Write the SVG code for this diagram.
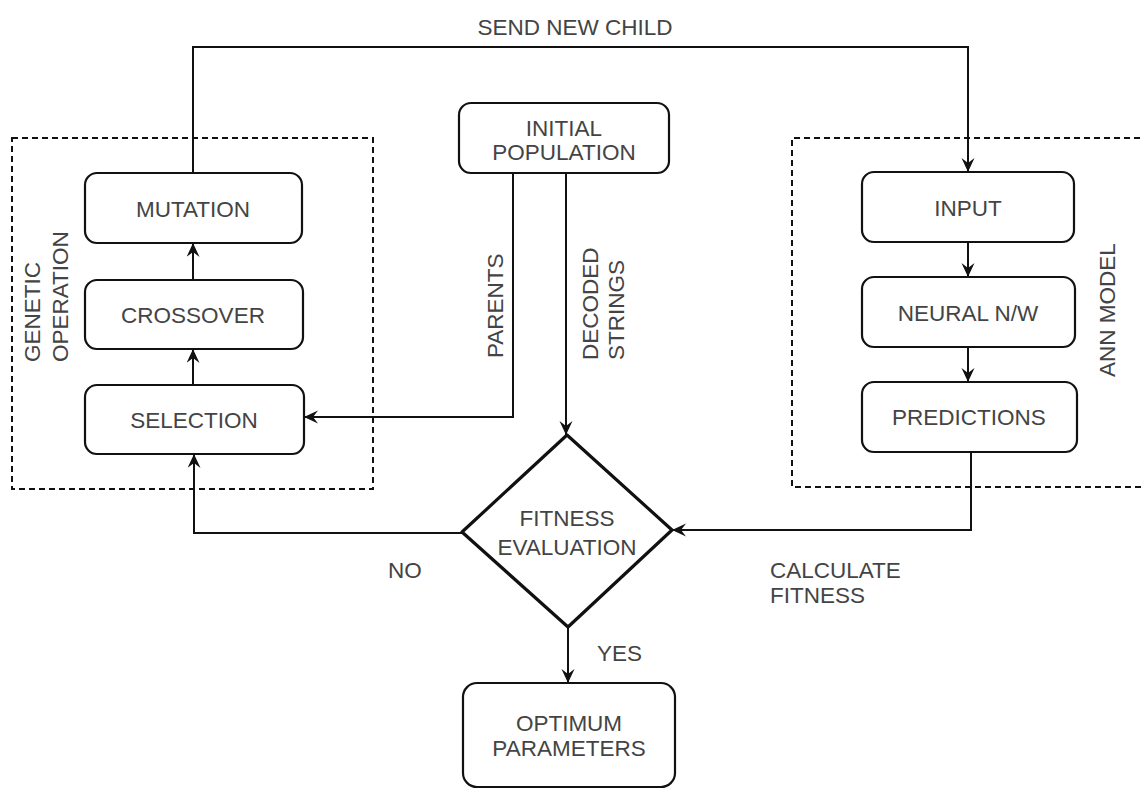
<svg xmlns="http://www.w3.org/2000/svg" width="1141" height="790" viewBox="0 0 1141 790">
<style>
.box{fill:#fff;stroke:#111;stroke-width:2.2}
.grp{fill:none;stroke:#111;stroke-width:2;stroke-dasharray:6 4}
.lbl{font-family:"Liberation Sans",Arial,sans-serif;font-size:22.5px;fill:#444;text-anchor:middle}
.side{font-family:"Liberation Sans",Arial,sans-serif;font-size:22.5px;fill:#444;text-anchor:start}
.edge{fill:none;stroke:#111;stroke-width:2}
</style>
<defs>
<marker id="arr" markerUnits="userSpaceOnUse" markerWidth="16" markerHeight="14" refX="14" refY="6.5" orient="auto">
<path d="M0,0 L14,6.5 L0,13 L5,6.5 z" fill="#111"/>
</marker>
</defs>
<rect width="1141" height="790" fill="#fff"/>
<g id="genetic-operation">
<rect class="grp" x="12" y="138" width="361" height="351"/>
<text class="side" transform="translate(42,362) rotate(-90)" dy="-2">GENETIC</text>
<text class="side" transform="translate(70,362) rotate(-90)" dy="-2">OPERATION</text>
</g>
<g id="ann-model">
<path class="grp" d="M1150,138 H792 V487 H1150"/>
<text class="lbl" transform="translate(1117,310) rotate(-90)" dy="-2">ANN MODEL</text>
</g>
<g id="mutation">
<rect class="box" x="85" y="173" width="217" height="70" rx="12"/>
<text class="lbl" x="193" y="217">MUTATION</text>
</g>
<g id="crossover">
<rect class="box" x="85" y="280" width="218" height="69" rx="12"/>
<text class="lbl" x="193" y="323">CROSSOVER</text>
</g>
<g id="selection">
<rect class="box" x="85" y="385" width="219" height="69" rx="12"/>
<text class="lbl" x="194" y="428">SELECTION</text>
</g>
<g id="initial-population">
<rect class="box" x="459" y="103" width="210" height="70" rx="12"/>
<text class="lbl" x="564" y="136">INITIAL</text>
<text class="lbl" x="564" y="160">POPULATION</text>
</g>
<g id="input">
<rect class="box" x="862" y="172" width="212" height="70" rx="12"/>
<text class="lbl" x="968" y="216">INPUT</text>
</g>
<g id="neural-nw">
<rect class="box" x="862" y="277" width="213" height="70" rx="12"/>
<text class="lbl" x="968" y="321">NEURAL N/W</text>
</g>
<g id="predictions">
<rect class="box" x="862" y="382" width="215" height="70" rx="12"/>
<text class="lbl" x="969" y="425">PREDICTIONS</text>
</g>
<g id="fitness-evaluation">
<path d="M567,435 L672,530 L568,627 L462,532 Z" fill="#fff" stroke="#111" stroke-width="3.2" stroke-linejoin="round"/>
<text class="lbl" x="567" y="526">FITNESS</text>
<text class="lbl" x="567" y="555">EVALUATION</text>
</g>
<g id="optimum-parameters">
<rect class="box" x="463" y="683" width="212" height="104" rx="14"/>
<text class="lbl" x="569" y="731">OPTIMUM</text>
<text class="lbl" x="569" y="756">PARAMETERS</text>
</g>
<g id="connectors">
<path class="edge" d="M193,173 V47 H968 V172" marker-end="url(#arr)"/>
<path class="edge" d="M968,242 V277" marker-end="url(#arr)"/>
<path class="edge" d="M968,347 V382" marker-end="url(#arr)"/>
<path class="edge" d="M971,452 V530 H672" marker-end="url(#arr)"/>
<path class="edge" d="M566,173 V435" marker-end="url(#arr)"/>
<path class="edge" d="M513,173 V417 H304" marker-end="url(#arr)"/>
<path class="edge" d="M462,533 H194 V454" marker-end="url(#arr)"/>
<path class="edge" d="M568,627 V683" marker-end="url(#arr)"/>
<path class="edge" d="M193,385 V349" marker-end="url(#arr)"/>
<path class="edge" d="M193,280 V243" marker-end="url(#arr)"/>
<text class="lbl" x="575" y="35">SEND NEW CHILD</text>
<text class="side" transform="translate(505,358) rotate(-90)" dy="-2">PARENTS</text>
<text class="side" transform="translate(600,360) rotate(-90)" dy="-2">DECODED</text>
<text class="side" transform="translate(626,360) rotate(-90)" dy="-2">STRINGS</text>
<text class="side" x="388" y="578">NO</text>
<text class="side" x="597" y="661">YES</text>
<text class="side" x="770" y="578">CALCULATE</text>
<text class="side" x="770" y="603">FITNESS</text>
</g>
</svg>
